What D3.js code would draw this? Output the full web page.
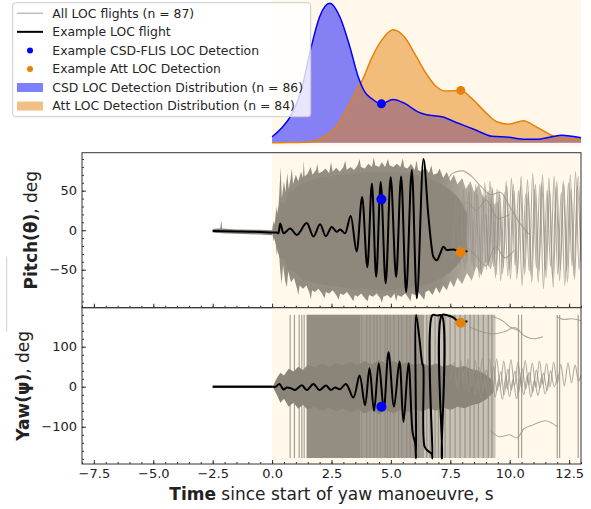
<!DOCTYPE html>
<html>
<head>
<meta charset="utf-8">
<script src="https://cdn.jsdelivr.net/npm/d3@7"></script>
<style>
  body { margin: 0; background: #fff; }
  svg { display: block; font-family: "DejaVu Sans", sans-serif; }
</style>
</head>
<body>
<div id="svg"></div>
<script>
// ---- tick labels ----
const xTicks = [-7.5, -5, -2.5, 0, 2.5, 5, 7.5, 10, 12.5];
const pitchTicks = [-50, 0, 50];
const yawTicks = [-100, 0, 100];

const legendLabels = [
    'All LOC flights (n = 87)',
    'Example LOC flight',
    'Example CSD-FLIS LOC Detection',
    'Example Att LOC Detection',
    'CSD LOC Detection Distribution (n = 86)',
    'Att LOC Detection Distribution (n = 84)'
];

// ---- detection distributions (kde) ----
const csdT = [0, 0.39, 0.81, 1.23, 1.65, 2.0, 2.43, 2.85, 3.27, 3.62, 3.9, 4.18, 4.6, 5.09, 5.58, 6.14, 6.5, 7.14, 7.84, 8.54, 9.25, 9.95, 10.65, 11.21, 11.77, 12.19, 12.61, 13.0];
const csdD = [0.012, 0.029, 0.056, 0.106, 0.193, 0.253, 0.280, 0.253, 0.193, 0.133, 0.102, 0.089, 0.078, 0.087, 0.079, 0.062, 0.056, 0.052, 0.039, 0.026, 0.013, 0.011, 0.007, 0.007, 0.012, 0.015, 0.013, 0.010];
const attT = [0, 0.8, 1.65, 2.08, 2.5, 2.85, 3.2, 3.55, 3.83, 4.18, 4.6, 5.09, 5.58, 6.0, 6.44, 6.86, 7.28, 7.94, 8.4, 8.96, 9.46, 9.95, 10.58, 11.07, 11.49, 11.84, 12.33, 13.0];
const attD = [0, 0.0004, 0.002, 0.009, 0.022, 0.042, 0.072, 0.105, 0.129, 0.169, 0.205, 0.227, 0.212, 0.179, 0.142, 0.115, 0.104, 0.105, 0.089, 0.062, 0.042, 0.037, 0.044, 0.033, 0.022, 0.013, 0.009, 0.007];

// ---- example detections: [t, density, pitch, yaw] ----
const csdDetect = [4.6, 0.078, 39, -50];
const attDetect = [7.94, 0.105, -28, 160];

// ---- example LOC flight ----
const exPitchT = [-2.5, -1.5, -0.5, 0.05, 0.2, 0.27, 0.34, 0.48, 0.76, 1.04, 1.46, 1.74, 2.02, 2.26, 2.51, 2.72, 2.86, 3.07, 3.31, 3.56, 3.79, 4.01, 4.2, 4.38, 4.57, 4.78, 4.99, 5.22, 5.43, 5.64, 5.88, 6.09, 6.37, 6.58, 6.79, 6.93, 7.07, 7.21, 7.35, 7.63, 7.95, 8.22];
const exPitchV = [-1, -1.5, -2.2, -2.9, -3, -4, 8.5, -4, 2, -6, 9, -8, 7.5, -7.5, 4, -2, 1, -4, 18, -27, 42, -47, 59, -59, 61, -67, 67, -59, 68, -78, 76, -86, 90, 17, -34, -38, -30, -21, -25, -24.5, -28, -26.5];

const exYawT = [-2.5, -1.0, 0.0, 0.15, 0.31, 0.48, 0.62, 0.8, 0.97, 1.25, 1.46, 1.74, 1.99, 2.27, 2.47, 2.65, 2.86, 3.11, 3.42, 3.68, 3.91, 4.1, 4.29, 4.49, 4.7, 4.9, 5.13, 5.36, 5.53, 5.74, 5.92, 6.02, 6.06, 6.06, 6.2, 6.32, 6.36, 6.42, 6.55, 6.72, 6.75, 6.75, 6.95, 7.14, 7.14, 7.15, 7.15, 7.4, 7.6, 7.8, 7.95, 8.1, 8.22];
const exYawV = [0, 0, 0, 0, 6.8, -6.7, -1.7, -4, -8, 4, -8, 6.8, -8, 3, -8, -2, -6, 7, -27, 28, -46, 46, -60, 59, -55, 86, -50, 63, -88, 59, -117, -140, -179, 179, 120, 58, 52, -150, -160, -168, -179, 179, 178, 178, -179, -179, 179, 178, 174, 165, 160, 163, 163];

// ---- all LOC flights, pitch ----
const pitchPreT = [-2.5, -2.3, -2.18, -2.14, -2.1, -1.5, -0.5, 0];
const pitchPreHi = [1.5, 2, 2, 12.5, 2, 1, 0.5, 0];
const pitchPreLo = [-3, -3.5, -3.5, -4, -4, -4.5, -5.5, -6.5];

const pitchOuterHi = [[0, 0], [0.06, 12], [0.1, 3], [0.18, 30], [0.24, 14], [0.3, 45], [0.36, 80], [0.41, 40], [0.5, 62], [0.56, 48], [0.64, 72], [0.7, 52], [0.78, 66], [0.83, 78], [0.88, 58], [1.0, 70], [1.1, 62], [1.22, 74], [1.3, 66], [1.33, 88], [1.37, 68], [1.5, 72], [1.62, 80], [1.7, 70], [1.85, 76], [1.9, 84], [1.96, 72], [2.1, 74], [2.25, 78], [2.4, 72], [2.48, 86], [2.55, 74], [2.7, 79], [2.85, 74], [3.0, 80], [3.08, 88], [3.14, 76], [3.3, 80], [3.45, 76], [3.6, 82], [3.68, 90], [3.74, 80], [3.9, 78], [4.05, 84], [4.2, 80], [4.28, 92], [4.34, 82], [4.5, 80], [4.62, 86], [4.75, 80], [4.88, 90], [4.94, 82], [5.1, 80], [5.25, 84], [5.4, 80], [5.5, 91], [5.56, 80], [5.7, 78], [5.85, 84], [6.0, 76], [6.08, 88], [6.14, 76], [6.3, 74], [6.45, 80], [6.6, 72], [6.7, 82], [6.78, 70], [6.95, 72], [7.05, 78], [7.2, 66], [7.35, 74], [7.5, 62], [7.65, 70], [7.8, 58], [8.0, 66], [8.15, 52], [8.35, 62], [8.5, 48], [8.7, 58], [8.9, 40], [9.1, 50], [9.3, 32], [9.5, 36], [9.65, 15]];
const pitchOuterLo = [[0, -4], [0.07, -14], [0.12, -6], [0.2, -32], [0.27, -18], [0.34, -50], [0.4, -68], [0.46, -44], [0.55, -64], [0.62, -72], [0.68, -52], [0.8, -66], [0.92, -60], [1.05, -74], [1.1, -82], [1.16, -70], [1.3, -74], [1.45, -70], [1.58, -80], [1.63, -88], [1.68, -76], [1.8, -78], [1.95, -74], [2.1, -80], [2.2, -86], [2.26, -78], [2.4, -80], [2.55, -76], [2.7, -82], [2.8, -88], [2.86, -80], [3.0, -82], [3.15, -78], [3.3, -84], [3.42, -90], [3.48, -82], [3.6, -84], [3.75, -80], [3.9, -86], [4.02, -90], [4.08, -82], [4.25, -84], [4.4, -80], [4.55, -86], [4.62, -92], [4.68, -84], [4.85, -82], [5.0, -86], [5.15, -80], [5.22, -90], [5.28, -82], [5.45, -84], [5.6, -80], [5.75, -86], [5.82, -90], [5.88, -80], [6.0, -82], [6.15, -78], [6.3, -84], [6.4, -88], [6.46, -78], [6.6, -76], [6.75, -82], [6.9, -72], [7.05, -80], [7.2, -70], [7.35, -76], [7.5, -64], [7.65, -72], [7.8, -60], [8.0, -68], [8.2, -54], [8.4, -64], [8.6, -46], [8.8, -58], [9.0, -40], [9.2, -50], [9.4, -30], [9.6, -18]];

const pitchCoreT = [0.05, 0.2, 0.35, 0.5, 0.7, 0.9, 1.2, 1.5, 2.0, 2.5, 3.0, 3.5, 4.0, 4.5, 5.0, 5.5, 6.0, 6.5, 7.0, 7.3, 7.6, 7.9, 8.2];
const pitchCoreHi = [3, 20, 36, 32, 48, 50, 58, 62, 66, 68, 70, 72, 74, 74, 74, 72, 70, 66, 60, 55, 48, 38, 22];
const pitchCoreLo = [-6, -22, -36, -35, -50, -52, -60, -64, -68, -70, -72, -74, -74, -76, -76, -74, -72, -68, -62, -57, -50, -40, -25];

const pitchTraces = [
    [[7.6, -30], [7.75, 40], [7.9, -45], [8.05, 50], [8.2, -40], [8.35, 55], [8.5, -50], [8.65, 45], [8.8, -55], [8.95, 60], [9.1, -45], [9.25, 55], [9.4, -60], [9.55, 50], [9.7, -55], [9.85, 62], [10.0, -50], [10.15, 58], [10.3, -62], [10.45, 55], [10.6, -48], [10.75, 64], [10.9, -58], [11.05, 52], [11.2, -66], [11.35, 60], [11.5, -50], [11.65, 66], [11.8, -60], [11.95, 55], [12.1, -64], [12.25, 62], [12.4, -52], [12.55, 70], [12.7, -58], [12.85, 56], [13.0, -40]],
    [[8.0, 10], [8.12, -50], [8.27, 48], [8.42, -42], [8.57, 58], [8.72, -60], [8.87, 44], [9.02, -50], [9.17, 62], [9.32, -46], [9.47, 52], [9.62, -64], [9.77, 48], [9.92, -58], [10.07, 66], [10.22, -44], [10.37, 50], [10.52, -70], [10.67, 46], [10.82, -52], [10.97, 72], [11.12, -48], [11.27, 58], [11.42, -74], [11.57, 50], [11.72, -46], [11.87, 68], [12.02, -56], [12.17, 48], [12.32, -70], [12.47, 60], [12.62, -45], [12.77, 74], [12.92, -50], [13.0, 0]],
    [[9.0, 20], [9.13, -40], [9.28, 52], [9.43, -56], [9.58, 46], [9.73, -48], [9.88, 56], [10.03, -62], [10.18, 50], [10.33, -54], [10.48, 68], [10.63, -56], [10.78, 48], [10.93, -66], [11.08, 58], [11.23, -52], [11.38, 70], [11.53, -60], [11.68, 50], [11.83, -72], [11.98, 62], [12.13, -50], [12.28, 58], [12.43, -66], [12.58, 52], [12.73, -62], [12.88, 68], [13.0, -20]],
    [[7.2, 50], [7.6, 72], [8.0, 75], [8.4, 68], [8.8, 55], [9.2, 45], [9.6, 48], [10.0, 30], [10.4, 10], [10.8, -5]],
    [[7.5, -40], [8.0, -20], [8.5, -30], [9.0, -45], [9.4, -20], [9.8, -35], [10.2, -25]],
    [[7.8, 20], [8.2, 35], [8.6, 25], [9.0, 38], [9.5, 15], [10.0, 20]]
];

// ---- all LOC flights, yaw ----
const yawPreT = [-2.5, -1.0, 0];
const yawPreHi = [3, 3, 3];
const yawPreLo = [-3, -3, -3];

const yawCoreT = [0.05, 0.2, 0.35, 0.5, 0.7, 0.9, 1.1, 1.3, 1.5, 1.8, 2.1, 2.4, 2.7, 3.0, 3.3, 3.6, 3.9, 4.2, 4.5, 4.8, 5.1, 5.4, 5.7, 6.0, 6.3, 6.6, 6.9, 7.2, 7.5, 7.8, 8.1, 8.4, 8.7, 9.0, 9.3];
const yawCoreHi = [3, 22, 35, 28, 45, 38, 50, 42, 55, 48, 58, 50, 60, 52, 62, 55, 64, 56, 66, 58, 64, 56, 62, 54, 60, 52, 58, 50, 56, 48, 52, 44, 40, 30, 15];
const yawCoreLo = [-3, -20, -40, -30, -50, -40, -55, -45, -58, -50, -60, -52, -62, -54, -64, -56, -66, -58, -68, -60, -66, -58, -64, -56, -62, -54, -60, -52, -58, -50, -54, -46, -42, -32, -15];

// spans where wrapped traces fill the whole ±180 range
const yawSpanStart = [1.45, 3.7, 6.4];
const yawSpanEnd = [3.7, 6.4, 9.4];

// times where a trace wraps between +180 and -180
const yawWrapTimes = [0.76, 0.94, 1.14, 1.25, 1.35, 3.77, 3.98, 4.12, 4.29, 4.41, 4.55, 4.76, 4.85, 4.97, 5.13, 5.32, 5.46, 5.67, 5.81, 5.98, 6.16, 6.51, 6.65, 6.86, 7.0, 7.28, 7.49, 7.7, 7.91, 8.12, 8.33, 8.5, 8.68, 8.89, 9.1, 9.25, 10.37, 10.5, 12.0, 12.1, 12.88];

const yawTraces = [
    [[7.5, 20], [7.65, 60], [7.8, -5], [7.95, 65], [8.1, -10], [8.25, 70], [8.4, 0], [8.55, 66], [8.7, -8], [8.85, 72], [9.0, -4], [9.15, 68], [9.3, -10], [9.45, 70], [9.6, 0], [9.75, 64], [9.9, -6], [10.05, 68], [10.2, 2], [10.35, 62], [10.5, -4], [10.65, 66], [10.8, 4], [10.95, 60], [11.1, -2], [11.25, 64], [11.4, 6], [11.55, 58], [11.7, 0], [11.85, 62], [12.0, 8], [12.15, 56], [12.3, 2], [12.45, 60], [12.6, 10], [12.75, 54], [12.9, 14], [13.0, 30]],
    [[8.0, 10], [8.12, 45], [8.27, -15], [8.42, 40], [8.57, -20], [8.72, 48], [8.87, -12], [9.02, 42], [9.17, -18], [9.32, 50], [9.47, -10], [9.62, 38], [9.77, -20], [9.92, 44], [10.07, -8], [10.22, 40], [10.37, -16], [10.52, 46], [10.67, -6], [10.82, 36], [10.97, -14], [11.12, 42], [11.27, -4], [11.42, 34], [11.57, -10], [11.72, 40], [11.87, 0], [12.02, 30]],
    [[8.5, -20], [8.64, 22], [8.79, -28], [8.94, 18], [9.09, -30], [9.24, 24], [9.39, -26], [9.54, 20], [9.69, -32], [9.84, 26], [9.99, -24], [10.14, 18], [10.29, -30], [10.44, 22], [10.59, -20], [10.74, 28], [10.89, -26], [11.04, 16], [11.19, -22], [11.34, 24], [11.49, -18], [11.64, 20]],
    [[8.3, 150], [8.8, 138], [9.3, 132], [9.8, 138], [10.2, 148], [10.6, 128], [11.0, 120], [11.4, 125]],
    [[9.2, -110], [9.6, -125], [10.0, -120], [10.3, -128], [10.6, -105], [11.0, -95], [11.5, -85], [12.0, -100]],
    [[12.0, 175], [12.3, 168], [12.6, 170], [13.0, 165]],
    [[9.3, 175], [9.7, 165], [10.0, 150], [10.4, 140]]
];

function makeGraph() {
    let w = 591, h = 509;
    let svg = d3.select('#svg')
        .append('svg')
        .attr('width', w)
        .attr('height', h);

    const blue = '#0000ff', orange = '#e6820a', shade = '#fff8eb';
    const spine = '#333333', textCol = '#222222';

    let xScale = d3.scaleLinear().domain([-8, 13]).range([82, 581]);
    let pitchY = d3.scaleLinear().domain([-98, 98]).range([307.7, 152.7]);
    let yawY = d3.scaleLinear().domain([-193, 197.5]).range([464, 307.7]);
    let densY = d3.scaleLinear().domain([0, 0.28]).range([142.7, 3.3]);

    let defs = svg.append('defs');
    defs.append('clipPath').attr('id', 'clipP').append('rect')
        .attr('x', 82).attr('y', 152.7).attr('width', 499).attr('height', 155);
    defs.append('clipPath').attr('id', 'clipY').append('rect')
        .attr('x', 82).attr('y', 307.7).attr('width', 499).attr('height', 156.3);
    let fade = defs.append('linearGradient').attr('id', 'fade')
        .attr('gradientUnits', 'userSpaceOnUse')
        .attr('x1', xScale(7)).attr('x2', xScale(9.7)).attr('y1', 0).attr('y2', 0);
    fade.append('stop').attr('offset', 0).attr('stop-color', '#948d82');
    fade.append('stop').attr('offset', 1).attr('stop-color', '#cfc9be');

    // ---------- top: detection distributions ----------
    let top = svg.append('g');
    top.append('rect')
        .attr('x', xScale(0)).attr('y', 0)
        .attr('width', xScale(13) - xScale(0)).attr('height', 146.7)
        .attr('fill', shade);

    let csd = csdT.map((t, i) => [t, csdD[i]]);
    let att = attT.map((t, i) => [t, attD[i]]);
    let dArea = d3.area().curve(d3.curveMonotoneX)
        .x(d => xScale(d[0])).y0(densY(0)).y1(d => densY(d[1]));
    let dLine = d3.line().curve(d3.curveMonotoneX)
        .x(d => xScale(d[0])).y(d => densY(d[1]));

    top.append('path').attr('d', dArea(csd)).attr('fill', blue).attr('fill-opacity', 0.48);
    top.append('path').attr('d', dArea(att)).attr('fill', orange).attr('fill-opacity', 0.5);
    top.append('path').attr('d', dLine(att)).attr('fill', 'none').attr('stroke', orange).attr('stroke-width', 1.5);
    top.append('path').attr('d', dLine(csd)).attr('fill', 'none').attr('stroke', blue).attr('stroke-width', 1.5);
    top.append('circle').attr('cx', xScale(csdDetect[0])).attr('cy', densY(csdDetect[1])).attr('r', 4.5).attr('fill', blue);
    top.append('circle').attr('cx', xScale(attDetect[0])).attr('cy', densY(attDetect[1])).attr('r', 4.5).attr('fill', orange);

    // ---------- helpers ----------
    function band(g, yS, hi, lo, fill) {
        let pts = hi.concat(lo.slice().reverse());
        let ln = d3.line().x(d => xScale(d[0])).y(d => yS(d[1]));
        g.append('path').attr('d', ln(pts) + 'Z').attr('fill', fill);
    }
    function coreBand(g, yS, ts, hi, lo, fill, curve) {
        let a = d3.area().curve(curve || d3.curveMonotoneX)
            .x(d => xScale(d.t)).y0(d => yS(d.lo)).y1(d => yS(d.hi));
        g.append('path')
            .attr('d', a(ts.map((t, i) => ({t: t, hi: hi[i], lo: lo[i]}))))
            .attr('fill', fill);
    }
    function traces(g, yS, list) {
        let ln = d3.line().curve(d3.curveMonotoneX).x(d => xScale(d[0])).y(d => yS(d[1]));
        g.selectAll(null).data(list).enter().append('path')
            .attr('d', d => ln(d))
            .attr('fill', 'none')
            .attr('stroke', '#958f85')
            .attr('stroke-opacity', 0.75)
            .attr('stroke-width', 1.1);
    }
    function axes(yS, top_, bottom, yTicks, yMinor, withLabels) {
        let ax = svg.append('g');
        ax.append('g').attr('transform', `translate(0,${bottom})`)
            .call(d3.axisBottom(xScale).tickValues(d3.range(-8, 13.01, 0.5)).tickSize(-2).tickFormat(''))
            .call(g => g.select('.domain').remove());
        ax.append('g').attr('transform', `translate(0,${bottom})`)
            .call(d3.axisBottom(xScale).tickValues(xTicks).tickSize(-4).tickPadding(5)
                .tickFormat(withLabels ? d3.format('.1f') : ''))
            .call(g => g.select('.domain').remove());
        ax.append('g').attr('transform', 'translate(82,0)')
            .call(d3.axisLeft(yS).tickValues(yMinor).tickSize(-2).tickFormat(''))
            .call(g => g.select('.domain').remove());
        ax.append('g').attr('transform', 'translate(82,0)')
            .call(d3.axisLeft(yS).tickValues(yTicks).tickSize(-4).tickPadding(5).tickFormat(d3.format('d')))
            .call(g => g.select('.domain').remove());
        ax.selectAll('line').attr('stroke', spine);
        ax.selectAll('text').attr('fill', textCol);
        ax.selectAll('g').attr('font-size', 13).attr('font-family', '"DejaVu Sans", sans-serif');
        ax.append('rect').attr('x', 82).attr('y', top_)
            .attr('width', 499).attr('height', bottom - top_)
            .attr('fill', 'none').attr('stroke', spine).attr('stroke-width', 1);
    }

    // ---------- pitch panel ----------
    let pg = svg.append('g').attr('clip-path', 'url(#clipP)');
    pg.append('rect').attr('x', xScale(0)).attr('y', 152.7)
        .attr('width', xScale(13.1) - xScale(0)).attr('height', 155).attr('fill', shade);
    coreBand(pg, pitchY, pitchPreT, pitchPreHi, pitchPreLo, '#8a857d', d3.curveLinear);
    band(pg, pitchY, pitchOuterHi, pitchOuterLo, 'url(#fade)');
    coreBand(pg, pitchY, pitchCoreT, pitchCoreHi, pitchCoreLo, '#8e877b');
    traces(pg, pitchY, pitchTraces);
    pg.append('path')
        .attr('d', d3.line().curve(d3.curveMonotoneX)
            .x(d => xScale(d[0])).y(d => pitchY(d[1]))(exPitchT.map((t, i) => [t, exPitchV[i]])))
        .attr('fill', 'none').attr('stroke', '#000').attr('stroke-width', 2);
    pg.append('circle').attr('cx', xScale(csdDetect[0])).attr('cy', pitchY(csdDetect[2])).attr('r', 5).attr('fill', blue);
    pg.append('circle').attr('cx', xScale(attDetect[0])).attr('cy', pitchY(attDetect[2])).attr('r', 5).attr('fill', orange);
    axes(pitchY, 152.7, 307.7, pitchTicks, d3.range(-90, 91, 10), false);

    // ---------- yaw panel ----------
    let yg = svg.append('g').attr('clip-path', 'url(#clipY)');
    yg.append('rect').attr('x', xScale(0)).attr('y', 307.7)
        .attr('width', xScale(13.1) - xScale(0)).attr('height', 156.3).attr('fill', shade);
    const spanFill = ['#938d82', '#a39d92', '#c6c0b5'];
    yg.selectAll(null).data(yawSpanStart).enter().append('rect')
        .attr('x', d => xScale(d))
        .attr('width', (d, i) => xScale(yawSpanEnd[i]) - xScale(d))
        .attr('y', yawY(180)).attr('height', yawY(-178) - yawY(180))
        .attr('fill', (d, i) => spanFill[i]);
    yg.selectAll(null).data(yawWrapTimes).enter().append('line')
        .attr('x1', d => xScale(d)).attr('x2', d => xScale(d))
        .attr('y1', yawY(180)).attr('y2', yawY(-178))
        .attr('stroke', '#8f897e').attr('stroke-opacity', 0.8).attr('stroke-width', 1.2);
    coreBand(yg, yawY, yawPreT, yawPreHi, yawPreLo, '#707070');
    coreBand(yg, yawY, yawCoreT, yawCoreHi, yawCoreLo, '#8b8478', d3.curveLinear);
    traces(yg, yawY, yawTraces);
    yg.append('path')
        .attr('d', d3.line().curve(d3.curveCatmullRom.alpha(0.5))
            .x(d => xScale(d[0])).y(d => yawY(d[1]))(exYawT.map((t, i) => [t, exYawV[i]])))
        .attr('fill', 'none').attr('stroke', '#000').attr('stroke-width', 2);
    yg.append('circle').attr('cx', xScale(csdDetect[0])).attr('cy', yawY(csdDetect[3])).attr('r', 5).attr('fill', blue);
    yg.append('circle').attr('cx', xScale(attDetect[0])).attr('cy', yawY(attDetect[3])).attr('r', 5).attr('fill', orange);
    axes(yawY, 307.7, 464, yawTicks, d3.range(-180, 181, 20), true);

    // ---------- axis labels ----------
    let pl = svg.append('text')
        .attr('transform', `translate(37.4, ${(152.7 + 307.7) / 2}) rotate(-90)`)
        .attr('text-anchor', 'middle').attr('font-size', 17).attr('fill', textCol);
    pl.append('tspan').attr('font-weight', 'bold').text('Pitch(θ)');
    pl.append('tspan').text(', deg');

    let yl = svg.append('text')
        .attr('transform', `translate(29.4, ${(307.7 + 464) / 2}) rotate(-90)`)
        .attr('text-anchor', 'middle').attr('font-size', 17).attr('fill', textCol);
    yl.append('tspan').attr('font-weight', 'bold').text('Yaw(ψ)');
    yl.append('tspan').text(', deg');

    let xl = svg.append('text')
        .attr('x', (82 + 581) / 2).attr('y', 499.5)
        .attr('text-anchor', 'middle').attr('font-size', 17).attr('fill', textCol);
    xl.append('tspan').attr('font-weight', 'bold').text('Time');
    xl.append('tspan').text(' since start of yaw manoeuvre, s');

    // stray frame edge at far left
    svg.append('line').attr('x1', 6.7).attr('x2', 6.7).attr('y1', 256.7).attr('y2', 331.7)
        .attr('stroke', '#cfcfcf').attr('stroke-width', 1);

    // ---------- legend ----------
    let lg = svg.append('g');
    lg.append('rect').attr('x', 12.7).attr('y', 2.7).attr('width', 298).attr('height', 114)
        .attr('rx', 3).attr('fill', '#fff').attr('fill-opacity', 0.8)
        .attr('stroke', '#cccccc').attr('stroke-width', 1);
    let rows = lg.selectAll('.entry').data(legendLabels).enter().append('g')
        .attr('transform', (d, i) => `translate(0, ${13.3 + i * 18.55})`);
    rows.append('text').attr('x', 52.3).attr('dy', '0.35em')
        .attr('font-size', 12.4).attr('fill', '#262626').text(d => d);
    rows.each(function (d, i) {
        let r = d3.select(this);
        if (i === 0) r.append('line').attr('x1', 17).attr('x2', 43).attr('stroke', '#bdbdbd').attr('stroke-width', 1.5);
        if (i === 1) r.append('line').attr('x1', 17).attr('x2', 43).attr('stroke', '#000').attr('stroke-width', 2);
        if (i === 2) r.append('circle').attr('cx', 30).attr('r', 3).attr('fill', blue);
        if (i === 3) r.append('circle').attr('cx', 30).attr('r', 3).attr('fill', orange);
        if (i === 4) r.append('rect').attr('x', 17).attr('y', -4.5).attr('width', 26).attr('height', 9)
            .attr('fill', blue).attr('fill-opacity', 0.5);
        if (i === 5) r.append('rect').attr('x', 17).attr('y', -4.5).attr('width', 26).attr('height', 9)
            .attr('fill', orange).attr('fill-opacity', 0.5);
    });
}

window.onload = () => {
    makeGraph();
}
</script>
</body>
</html>
